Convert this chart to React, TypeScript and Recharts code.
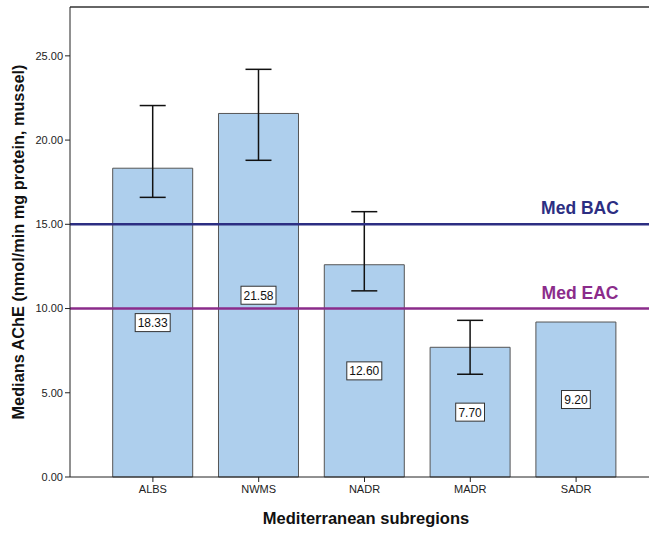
import { BarChart, Bar, XAxis, YAxis, ErrorBar, ReferenceLine, LabelList } from 'recharts'

const REGIONS = ['ALBS', 'NWMS', 'NADR', 'MADR', 'SADR']
const MEDIANS = [18.33, 21.58, 12.6, 7.7, 9.2]
const ERR_LOW = [16.6, 18.8, 11.05, 6.1, null]
const ERR_HIGH = [22.05, 24.2, 15.75, 9.3, null]
const Y_TICKS = [0, 5, 10, 15, 20, 25]
const Y_MAX = 27.9
const BAC = 15
const EAC = 10

const FONT = '"Liberation Sans", Arial, sans-serif'

const data = REGIONS.map((region, i) => {
  const lo = ERR_LOW[i]
  const hi = ERR_HIGH[i]
  return {
    region,
    median: MEDIANS[i],
    err: lo == null || hi == null ? undefined : [MEDIANS[i] - lo, hi - MEDIANS[i]],
  }
})

function ValueBox(props: any) {
  const { x, y, width, height, value } = props
  const text = Number(value).toFixed(2)
  const w = text.length * 6.2 + 4
  const cx = x + width / 2
  const cy = y + height / 2
  return (
    <g>
      <rect x={cx - w / 2} y={cy - 9} width={w} height={18} fill="#fff" stroke="#333" strokeWidth={1} />
      <text x={cx} y={cy + 4.5} textAnchor="middle" fontSize={12} fontFamily={FONT} fill="#111">
        {text}
      </text>
    </g>
  )
}

function lineLabel(text: string, color: string) {
  return (props: any) => {
    const { viewBox } = props
    return (
      <text
        x={viewBox.x + 510}
        y={viewBox.y - 10}
        textAnchor="middle"
        fontSize={17.5}
        fontWeight="bold"
        fontFamily={FONT}
        fill={color}
      >
        {text}
      </text>
    )
  }
}

export default function App() {
  return (
    <div style={{ position: 'absolute', left: 0, top: 0, width: 649, height: 533, overflow: 'hidden', background: '#fff' }}>
      <BarChart
        width={662}
        height={533}
        data={data}
        margin={{ top: 7, right: 0, left: 0, bottom: 0 }}
        barCategoryGap="12%"
      >
        <XAxis
          dataKey="region"
          padding={{ left: 30, right: 33 }}
          tickLine={{ stroke: '#222' }}
          axisLine={{ stroke: '#222' }}
          tickSize={5}
          tickMargin={3}
          height={56}
          tick={{ fontSize: 11, fontFamily: FONT, fill: '#222' }}
          label={{
            value: 'Mediterranean subregions',
            position: 'insideBottom',
            offset: 9,
            fontSize: 16.5,
            fontWeight: 'bold',
            fontFamily: FONT,
            fill: '#111',
          }}
        />
        <YAxis
          domain={[0, Y_MAX]}
          ticks={Y_TICKS}
          width={70}
          tickFormatter={(v: number) => v.toFixed(2)}
          tickLine={{ stroke: '#222' }}
          axisLine={{ stroke: '#222' }}
          tickSize={5}
          tickMargin={2}
          tick={{ fontSize: 11, fontFamily: FONT, fill: '#222' }}
          label={{
            value: 'Medians AChE (nmol/min mg protein, mussel)',
            angle: -90,
            position: 'insideLeft',
            offset: 18,
            style: { textAnchor: 'middle' },
            fontSize: 16.3,
            fontWeight: 'bold',
            fontFamily: FONT,
            fill: '#111',
          }}
        />
        <ReferenceLine y={Y_MAX} stroke="#333" strokeWidth={1.5} />
        <Bar dataKey="median" fill="#aecfed" stroke="#555" strokeWidth={1} isAnimationActive={false}>
          <ErrorBar dataKey="err" width={13} stroke="#111" strokeWidth={1.5} direction="y" />
          <LabelList dataKey="median" content={ValueBox} />
        </Bar>
        <ReferenceLine y={BAC} stroke="#2c2e82" strokeWidth={2.5} label={lineLabel('Med BAC', '#2c2e82')} />
        <ReferenceLine y={EAC} stroke="#8b2c8b" strokeWidth={2.5} label={lineLabel('Med EAC', '#8b2c8b')} />
      </BarChart>
    </div>
  )
}
